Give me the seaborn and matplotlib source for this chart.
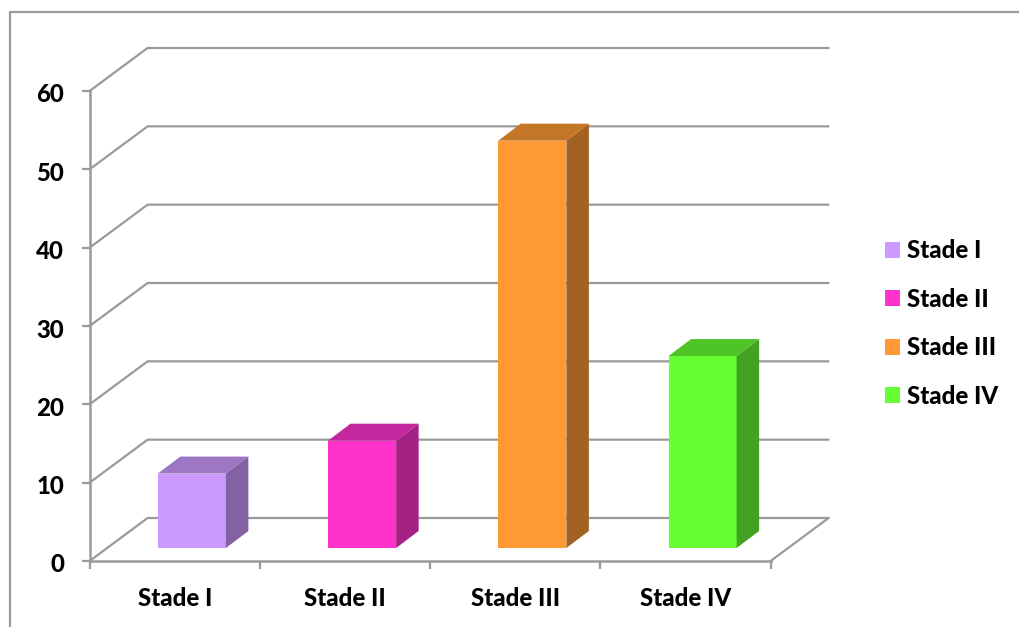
import numpy as np
import pandas as pd
import matplotlib
matplotlib.use("Agg")
import matplotlib.pyplot as plt
import seaborn as sns
from matplotlib.lines import Line2D
from matplotlib.patches import Polygon
from matplotlib.colors import to_rgb
from matplotlib.transforms import Affine2D

stages = ["Stade I", "Stade II", "Stade III", "Stade IV"]
values = [9.5, 13.7, 52, 24.5]
colors = ["#CC99FF", "#FF33CC", "#FF9933", "#66FF33"]
yticks = [0, 10, 20, 30, 40, 50, 60]

sns.set_theme(style="white")
plt.rcParams["font.family"] = ["Lato", "DejaVu Sans"]
plt.rcParams["font.weight"] = "bold"

W, H, DPI = 1019, 627, 100
GRAY = "#9a9a9a"
LW = 1.6
FS = 17.3
WEIGHT = "black"

fig = plt.figure(figsize=(W / DPI, H / DPI), dpi=DPI, facecolor="white")

def pos(x0, x1, ybot, ytop):
    return [x0 / W, (H - ybot) / H, (x1 - x0) / W, (ybot - ytop) / H]

ax = fig.add_axes(pos(89.6, 770.6, 561, 91))
ax.set_xlim(-0.5, 3.5)
ax.set_ylim(0, 60)
px_x = 681 / 4
px_y = 470 / 60

# wall depth
wdx, wdy = 58 / px_x, 43 / px_y
for v in yticks:
    ax.plot([-0.5, -0.5 + wdx, 3.5 + wdx], [v, v + wdy, v + wdy],
            color=GRAY, lw=LW, clip_on=False, zorder=1, solid_joinstyle="miter")
ax.plot([3.5, 3.5 + wdx], [0, wdy], color=GRAY, lw=LW, clip_on=False, zorder=1)

for s in ("top", "right"):
    ax.spines[s].set_visible(False)
for s in ("left", "bottom"):
    ax.spines[s].set_color(GRAY)
    ax.spines[s].set_linewidth(LW + 0.2)

ax.set_yticks(yticks)
ax.set_yticklabels([str(v) for v in yticks], fontsize=FS, fontweight=WEIGHT, color="black")
ax.set_xticks(np.arange(len(stages) + 1) - 0.5)
ax.set_xticklabels([])
ax.set_xticks(np.arange(len(stages)), labels=stages, minor=True,
              fontsize=FS, fontweight=WEIGHT, color="black")
ax.tick_params(axis="y", which="major", length=5.8, width=LW, color=GRAY, left=True, pad=12.5)
ax.tick_params(axis="x", which="major", length=5.8, width=LW, color=GRAY, bottom=True)
ax.tick_params(axis="x", which="minor", length=0, pad=19, bottom=False)
for lab in ax.get_yticklabels():
    lab.set_transform(lab.get_transform() + Affine2D().translate(0, -2))

# bars stand part way into the depth of the floor
bx = fig.add_axes(pos(90 + 16.7, 771 + 16.7, 561 - 13, 91 - 13), sharex=None)
bx.patch.set_alpha(0)
df = pd.DataFrame({"stage": stages, "value": values})
sns.barplot(data=df, x="stage", y="value", hue="stage", palette=colors, hue_order=stages,
            order=stages, width=0.4, dodge=False, saturation=1, ax=bx, legend=True,
            linewidth=0, zorder=3)
bx.set_xlim(-0.5, 3.5)
bx.set_ylim(0, 60)
for s in bx.spines.values():
    s.set_visible(False)
bx.set_xticks([])
bx.set_yticks([])
bx.set_xlabel("")
bx.set_ylabel("")

ddx, ddy = 22.5 / px_x, 17 / px_y
for bar, col in zip([c[0] for c in bx.containers], colors):
    x0, x1 = bar.get_x(), bar.get_x() + bar.get_width()
    y1 = bar.get_height()
    rgb = np.array(to_rgb(col))
    bx.add_patch(Polygon([(x1, 0), (x1 + ddx, ddy), (x1 + ddx, y1 + ddy), (x1, y1)],
                         closed=True, fc=rgb * 0.64, ec="none", clip_on=False, zorder=3))
    bx.add_patch(Polygon([(x0, y1), (x0 + ddx, y1 + ddy), (x1 + ddx, y1 + ddy), (x1, y1)],
                         closed=True, fc=rgb * 0.77, ec="none", clip_on=False, zorder=3))

leg = bx.legend(loc="center left", bbox_to_anchor=(885 / W, (H - 323.5) / H),
                bbox_transform=fig.transFigure, frameon=False, fontsize=FS,
                handlelength=0.63, handleheight=0.63, handletextpad=0.27,
                labelspacing=1.06, borderpad=0, borderaxespad=0)
for t in leg.get_texts():
    t.set_fontweight(WEIGHT)
    t.set_color("black")

# outer frame of the picture
fig.add_artist(Line2D([10 / W, 10 / W, 1], [0, (H - 12) / H, (H - 12) / H],
                      transform=fig.transFigure, color=GRAY, lw=LW))

fig.savefig("out.png", dpi=DPI, facecolor="white")
